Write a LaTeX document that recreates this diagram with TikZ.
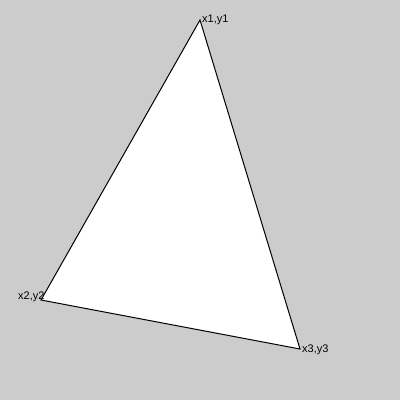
\documentclass[tikz,border=0pt]{standalone}
\usepackage{fontspec}
\setmainfont{Liberation Sans}
\begin{document}
\begin{tikzpicture}[x=1pt,y=-1pt,
  lbl/.style={anchor=base west,inner sep=0pt,font=\fontsize{11}{13}\selectfont}]
\fill[fill={rgb,255:red,204;green,204;blue,204}] (0,0) rectangle (400,400);
\useasboundingbox (0,0) rectangle (400,400);
\coordinate (p1) at (200,20);
\coordinate (p2) at (41,300);
\coordinate (p3) at (300,349);
\draw[fill=white,line width=1pt,line join=miter] (p1) -- (p2) -- (p3) -- cycle;
\node[lbl] (l1) at (202,22) {x1,y1};
\node[lbl] (l2) at (18,299) {x2,y2};
\node[lbl] (l3) at (302,352) {x3,y3};
\end{tikzpicture}
\end{document}
